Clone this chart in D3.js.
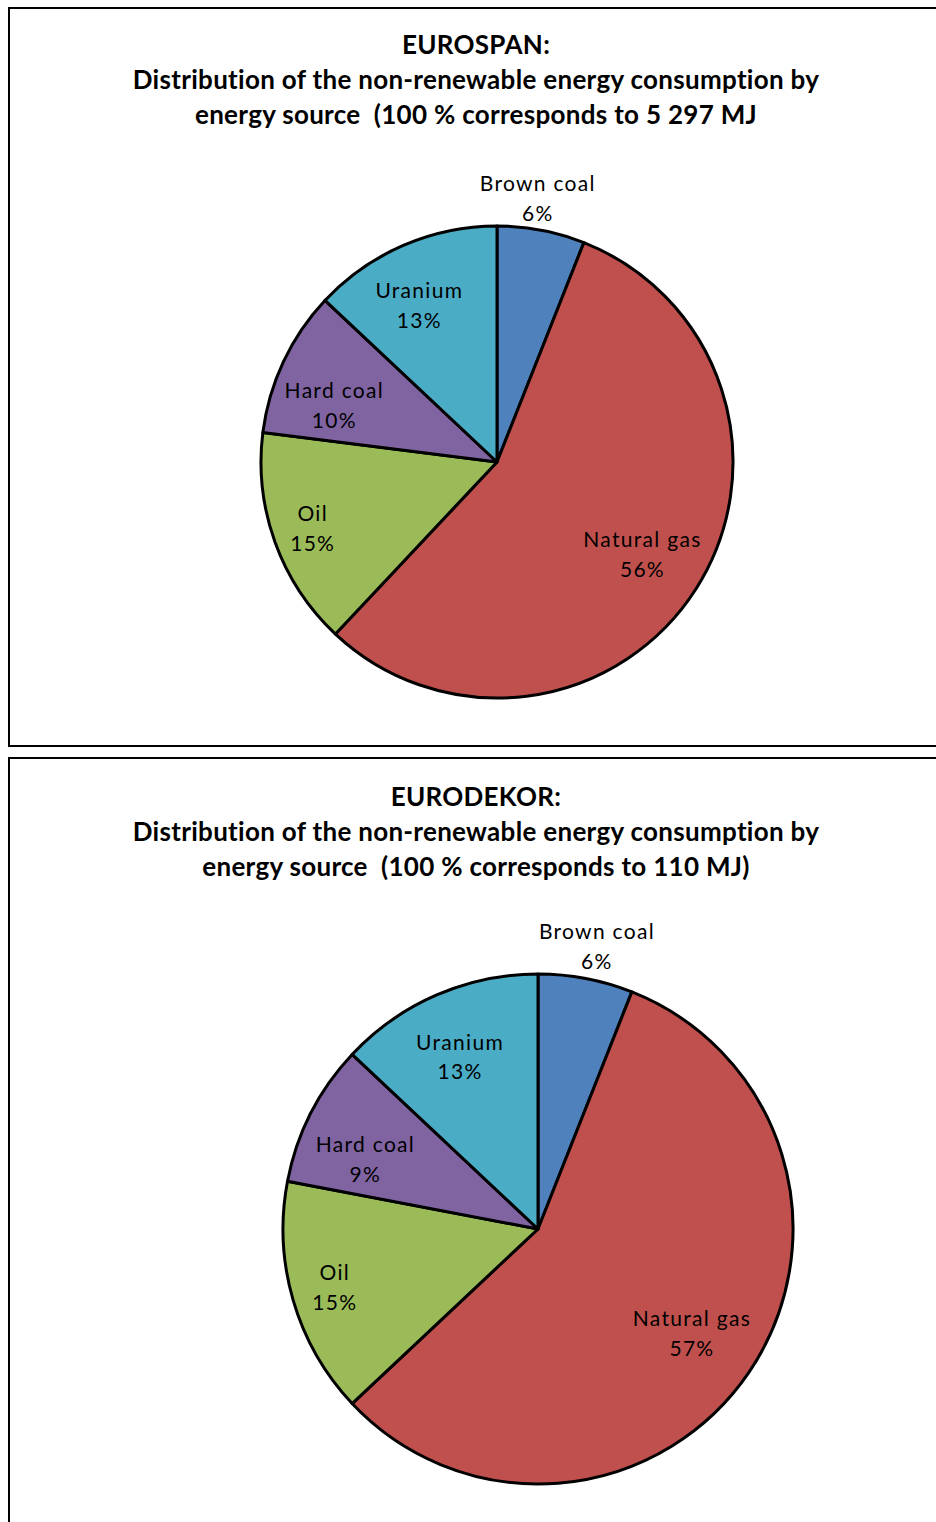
<!DOCTYPE html>
<html>
<head>
<meta charset="utf-8">
<script src="https://cdn.jsdelivr.net/npm/d3@7/dist/d3.min.js"></script>
<style>
  html, body { margin: 0; padding: 0; background: #fff; }
  svg { display: block; }
  .title { white-space: pre; }
</style>
</head>
<body>
<svg id="chart" width="936" height="1522"></svg>
<script>
// ---- Data ----
const categories = ["Brown coal", "Natural gas", "Oil", "Hard coal", "Uranium"];
const colors = ["#4F81BD", "#C0504D", "#9BBB59", "#8064A2", "#4BACC6"];

const eurospanValues = [6, 56, 15, 10, 13];
const eurodekorValues = [6, 57, 15, 9, 13];

const eurospanTitle = [
  "EUROSPAN:",
  "Distribution of the non-renewable energy consumption by",
  "energy source  (100 % corresponds to 5 297 MJ"
];
const eurodekorTitle = [
  "EURODEKOR:",
  "Distribution of the non-renewable energy consumption by",
  "energy source  (100 % corresponds to 110 MJ)"
];

// label placement: distance as a fraction of radius, and angular nudge (degrees), per slice
const labelRadiusFactor = [1.13, 0.73, 0.83, 0.73, 0.74];
const eurospanLabelShift = [-2, 0, 0, -6, -3];
const eurodekorLabelShift = [1, 0, 0, -5, -1];

const panels = [
  { title: eurospanTitle, values: eurospanValues, shift: eurospanLabelShift,
    box: { x: 9, y: 8, w: 940, h: 738 }, titleY: 45, cx: 497, cy: 462, r: 236 },
  { title: eurodekorTitle, values: eurodekorValues, shift: eurodekorLabelShift,
    box: { x: 9, y: 758, w: 940, h: 800 }, titleY: 797, cx: 538, cy: 1229, r: 255 }
];

const svg = d3.select("#chart");

panels.forEach(p => {
  const g = svg.append("g");
  g.append("rect")
    .attr("x", p.box.x).attr("y", p.box.y)
    .attr("width", p.box.w).attr("height", p.box.h)
    .attr("fill", "#fff").attr("stroke", "#000").attr("stroke-width", 2);

  g.append("g").selectAll("text").data(p.title).join("text")
    .attr("class", "title")
    .attr("x", 476)
    .attr("y", (d, i) => p.titleY + i * 35)
    .attr("dy", "0.35em")
    .attr("text-anchor", "middle")
    .attr("font-family", "Lato, 'Liberation Sans', sans-serif")
    .attr("font-weight", "bold")
    .attr("font-size", 26)
    .attr("letter-spacing", 0.3)
    .attr("fill", "#000")
    .text(d => d);

  const data = categories.map((c, i) => ({
    name: c, value: p.values[i], color: colors[i],
    lf: labelRadiusFactor[i], shift: p.shift[i] * Math.PI / 180
  }));
  const pie = d3.pie().value(d => d.value).sort(null);
  const arcs = pie(data);
  const arc = d3.arc().innerRadius(0).outerRadius(p.r);

  const pg = g.append("g").attr("transform", `translate(${p.cx},${p.cy})`);
  pg.selectAll("path").data(arcs).join("path")
    .attr("d", arc)
    .attr("fill", d => d.data.color)
    .attr("stroke", "#000")
    .attr("stroke-width", 3)
    .attr("stroke-linejoin", "round");

  const lbl = pg.selectAll("g.lbl").data(arcs).join("g").attr("class", "lbl")
    .attr("transform", d => {
      const a = (d.startAngle + d.endAngle) / 2 + d.data.shift;
      const rr = p.r * d.data.lf;
      return `translate(${rr * Math.sin(a)},${-rr * Math.cos(a)})`;
    });
  lbl.append("text")
    .attr("text-anchor", "middle")
    .attr("font-family", "Lato, 'Liberation Sans', sans-serif")
    .attr("font-size", 21)
    .attr("letter-spacing", 1.3)
    .attr("fill", "#000")
    .selectAll("tspan")
    .data(d => [d.data.name, d.data.value + "%"])
    .join("tspan")
    .attr("x", 0)
    .attr("y", (d, i) => (i === 0 ? -15 : 15))
    .attr("dy", "0.35em")
    .text(d => d);
});
</script>
</body>
</html>
